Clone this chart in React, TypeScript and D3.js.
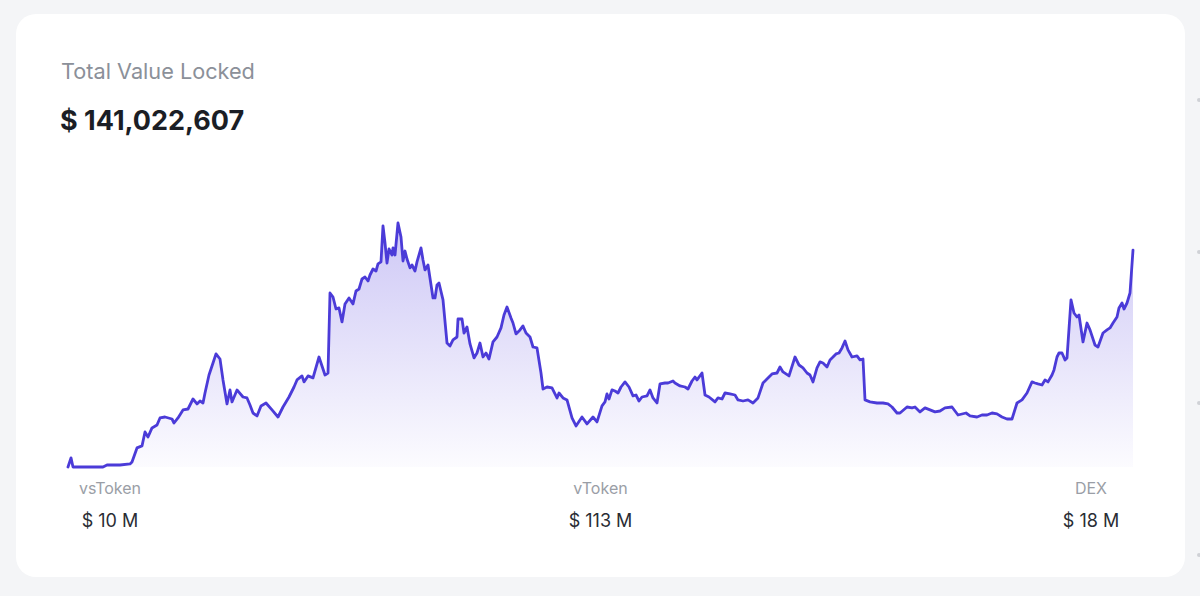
import React, { useMemo } from "react";
import * as d3 from "d3";

// Days since start of series
const days: number[] = [
  0, 3, 5, 12, 22, 35, 39, 52, 62, 64, 69, 74, 77, 80, 84, 89, 92, 97, 104, 106,
  110, 115, 120, 125, 129, 132, 135, 137, 141, 145, 148, 152, 155, 159, 162, 164, 169, 175, 179, 182,
  185, 189, 193, 198, 204, 210, 215, 221, 226, 229, 234, 236, 240, 245, 251, 257, 260, 262, 265, 268,
  271, 274, 277, 281, 285, 288, 291, 294, 297, 300, 302, 305, 308, 310, 313, 315, 317, 319, 321, 324,
  325, 327, 330, 333, 335, 337, 339, 342, 344, 347, 349, 353, 355, 357, 360, 365, 367, 369, 371, 375,
  379, 382, 385, 389, 390, 394, 396, 399, 402, 406, 409, 412, 415, 418, 421, 425, 429, 433, 436, 439,
  443, 445, 448, 452, 455, 458, 462, 465, 469, 473, 475, 479, 484, 489, 491, 495, 499, 504, 508, 514,
  519, 525, 529, 534, 537, 539, 541, 544, 547, 550, 553, 557, 561, 565, 568, 571, 574, 579, 582, 585,
  589, 592, 597, 600, 605, 607, 612, 617, 620, 624, 627, 629, 634, 637, 641, 647, 650, 654, 657, 662,
  667, 670, 675, 680, 685, 690, 695, 700, 704, 709, 712, 715, 721, 727, 731, 735, 739, 742, 745, 749,
  752, 755, 759, 762, 765, 768, 771, 774, 777, 780, 784, 789, 792, 795, 797, 802, 809, 815, 820, 824,
  829, 832, 839, 844, 847, 852, 857, 862, 867, 872, 877, 884, 890, 898, 902, 909, 914, 919, 924, 929,
  934, 939, 944, 949, 954, 959, 964, 967, 970, 974, 977, 980, 984, 986, 989, 991, 994, 997, 999, 1003,
  1006, 1009, 1011, 1015, 1019, 1022, 1027, 1030, 1035, 1039, 1042, 1045, 1049, 1051, 1054, 1056, 1059, 1062, 1065,
];

// Total value locked, $ millions
const tvl: number[] = [
  0, 5.9, 0, 0, 0, 0, 1.3, 1.3, 2.0, 3.3, 12.4, 13.7, 22.8, 19.5, 25.4, 27.3, 31.9, 32.5, 31.2, 28.6,
  31.9, 37.1, 37.7, 44.2, 41.0, 42.9, 41.6, 48.1, 59.8, 67.6, 73.5, 70.2, 56.6, 41.0, 50.1, 42.3, 50.1, 45.5, 44.9, 40.3,
  35.1, 33.2, 39.7, 41.6, 37.1, 32.5, 39.0, 45.5, 52.0, 56.6, 59.2, 55.3, 59.2, 57.9, 71.5, 59.8, 61.1, 113.1, 110.5, 102.7,
  103.4, 94.3, 106.0, 109.9, 106.0, 114.4, 115.7, 122.2, 123.5, 120.9, 124.8, 128.7, 127.4, 132.0, 133.3, 156.7, 145.6, 132.6, 141.7, 137.8,
  142.4, 137.8, 158.6, 149.5, 133.9, 140.4, 135.2, 129.4, 131.3, 127.4, 133.3, 142.4, 134.6, 128.1, 131.3, 109.9, 109.9, 118.3, 119.6, 108.6,
  80.6, 78.7, 82.6, 84.5, 96.2, 96.2, 87.1, 91.0, 80.0, 70.9, 74.1, 80.6, 71.5, 74.1, 70.2, 81.3, 84.5, 90.4, 98.8, 104.0,
  96.9, 93.6, 86.5, 89.1, 91.7, 87.1, 84.5, 78.0, 77.4, 61.1, 50.7, 52.0, 51.4, 44.9, 48.1, 44.9, 43.6, 31.9, 26.7, 32.5,
  28.0, 32.5, 29.3, 39.7, 42.3, 47.5, 44.2, 50.1, 49.4, 48.1, 52.0, 55.3, 52.0, 46.2, 46.8, 42.9, 45.5, 46.2, 50.1, 44.9,
  41.6, 54.0, 54.6, 54.6, 55.9, 54.6, 52.7, 52.0, 50.7, 55.9, 58.5, 56.6, 61.1, 46.8, 45.5, 42.3, 44.9, 44.2, 48.1, 47.5,
  46.8, 43.6, 42.9, 43.6, 41.6, 44.9, 54.6, 57.9, 60.5, 61.1, 65.0, 61.8, 59.2, 71.5, 66.3, 64.4, 61.1, 59.8, 55.3, 64.4,
  68.3, 67.6, 65.0, 69.6, 71.5, 73.5, 74.1, 77.4, 81.9, 76.1, 71.5, 72.2, 69.6, 70.2, 43.6, 42.3, 41.6, 41.6, 41.0, 39.0,
  35.1, 35.1, 39.0, 38.4, 39.0, 35.8, 38.4, 37.1, 35.8, 36.4, 38.4, 39.0, 33.8, 35.1, 33.2, 32.5, 33.8, 33.8, 35.1, 34.5,
  32.5, 31.2, 31.2, 41.6, 43.6, 48.1, 55.3, 54.6, 54.0, 53.3, 56.6, 55.3, 59.8, 63.1, 71.5, 74.1, 74.1, 69.6, 70.9, 108.6,
  100.1, 97.5, 98.8, 81.3, 93.6, 89.1, 79.3, 78.0, 87.1, 89.1, 90.4, 93.6, 97.5, 103.4, 106.6, 102.7, 106.6, 113.1, 141.0,
];

const breakdownLabels: string[] = ["vsToken", "vToken", "DEX"];
const breakdownValues: string[] = ["$ 10 M", "$ 113 M", "$ 18 M"];
const titleText = "Total Value Locked";
const totalText = "$ 141,022,607";

const W = 1200;
const H = 596;

export default function App() {
  const data = useMemo(
    () => days.map((d, i) => ({ d, v: tvl[Math.min(i, tvl.length - 1)] })),
    []
  );

  const x = d3
    .scaleLinear()
    .domain([0, d3.max(days) as number])
    .range([68, 1133]);
  const y = d3
    .scaleLinear()
    .domain([0, d3.max(tvl) as number])
    .range([467, 223]);

  const line = d3
    .line<{ d: number; v: number }>()
    .x((p) => x(p.d))
    .y((p) => y(p.v))
    .curve(d3.curveLinear);
  const area = d3
    .area<{ d: number; v: number }>()
    .x((p) => x(p.d))
    .y0(y(0))
    .y1((p) => y(p.v))
    .curve(d3.curveLinear);

  const labelX = d3.scalePoint<string>().domain(breakdownLabels).range([110, 1091]);

  const font = "Inter, 'Noto Sans', 'DejaVu Sans', sans-serif";

  return (
    <svg
      width={W}
      height={H}
      viewBox={`0 0 ${W} ${H}`}
      style={{ position: "absolute", left: 0, top: 0, display: "block" }}
    >
      <defs>
        <linearGradient id="tvlFill" x1="0" y1="0" x2="0" y2="1">
          <stop offset="0%" stopColor="#5b47e0" stopOpacity={0.3} />
          <stop offset="100%" stopColor="#5b47e0" stopOpacity={0.02} />
        </linearGradient>
      </defs>
      <rect x={0} y={0} width={W} height={H} fill="#f4f5f7" />
      <rect x={16} y={14} width={1169} height={563} rx={20} ry={20} fill="#ffffff" />
      {[100, 252, 403, 555].map((cy) => (
        <circle key={cy} cx={1199} cy={cy} r={2} fill="#cfd1d6" />
      ))}
      <text x={61} y={79} fontFamily={font} fontSize={21.7} fill="#8b9099">
        {titleText}
      </text>
      <text x={60} y={130} fontFamily={font} fontSize={27} fontWeight={700} fill="#1b1e25">
        {totalText}
      </text>
      <path d={area(data) || ""} fill="url(#tvlFill)" />
      <path
        d={line(data) || ""}
        fill="none"
        stroke="#4b3bd8"
        strokeWidth={2.8}
        strokeLinejoin="round"
        strokeLinecap="round"
      />
      {breakdownLabels.map((lab, i) => (
        <g key={lab}>
          <text
            x={labelX(lab)}
            y={494}
            textAnchor="middle"
            fontFamily={font}
            fontSize={16}
            fill="#9a9ea6"
          >
            {lab}
          </text>
          <text
            x={labelX(lab)}
            y={527}
            textAnchor="middle"
            fontFamily={font}
            fontSize={18}
            fill="#2a2d34"
          >
            {breakdownValues[i]}
          </text>
        </g>
      ))}
    </svg>
  );
}
